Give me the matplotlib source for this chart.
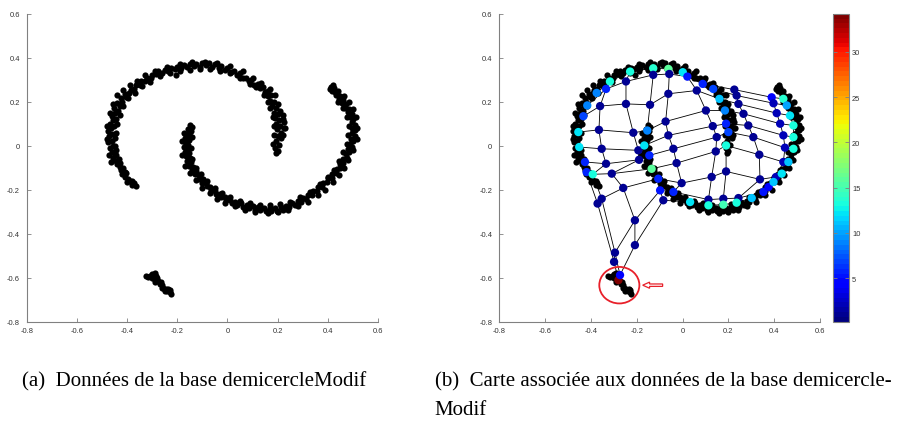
import numpy as np
import matplotlib
matplotlib.use('Agg')
import matplotlib.pyplot as plt
from matplotlib.patches import Ellipse, FancyArrow
from matplotlib.colors import Normalize

# data set demicercleModif
arc1 = [(-0.365, -0.185), (-0.372, -0.170), (-0.380, -0.178), (-0.388, -0.160), (-0.395, -0.150),
        (-0.400, -0.165), (-0.410, -0.140), (-0.405, -0.125), (-0.420, -0.128), (-0.425, -0.110),
        (-0.430, -0.095), (-0.418, -0.100), (-0.440, -0.085), (-0.445, -0.070), (-0.432, -0.060),
        (-0.455, -0.055), (-0.450, -0.040), (-0.462, -0.030), (-0.445, -0.020), (-0.470, -0.010),
        (-0.458, 0.000), (-0.475, 0.015), (-0.462, 0.020), (-0.450, 0.035), (-0.472, 0.045),
        (-0.460, 0.055), (-0.478, 0.065), (-0.465, 0.080), (-0.452, 0.090), (-0.470, 0.100),
        (-0.458, 0.115), (-0.445, 0.120), (-0.462, 0.135), (-0.448, 0.150), (-0.435, 0.160),
        (-0.452, 0.170), (-0.430, 0.180), (-0.440, 0.195), (-0.420, 0.200), (-0.425, 0.215),
        (-0.405, 0.220), (-0.410, 0.235), (-0.392, 0.240), (-0.385, 0.255), (-0.372, 0.260),
        (-0.365, 0.275), (-0.350, 0.278), (-0.345, 0.292), (-0.330, 0.295), (-0.320, 0.310),
        (-0.305, 0.308), (-0.300, 0.322), (-0.285, 0.325), (-0.275, 0.338), (-0.260, 0.332),
        (-0.250, 0.345), (-0.235, 0.340), (-0.225, 0.355), (-0.210, 0.348), (-0.200, 0.360),
        (-0.185, 0.352), (-0.175, 0.365), (-0.160, 0.358), (-0.150, 0.370), (-0.135, 0.362),
        (-0.125, 0.372), (-0.110, 0.360), (-0.100, 0.375), (-0.085, 0.365), (-0.075, 0.378),
        (-0.060, 0.360), (-0.050, 0.370), (-0.035, 0.355), (-0.025, 0.362), (-0.010, 0.345),
        (0.000, 0.352), (0.015, 0.335), (0.025, 0.340), (0.040, 0.322), (0.050, 0.330),
        (0.060, 0.308), (0.075, 0.310), (0.085, 0.292), (0.095, 0.298), (0.105, 0.278),
        (0.120, 0.282), (0.128, 0.262), (0.140, 0.268), (0.148, 0.245), (0.160, 0.250),
        (0.162, 0.225), (0.175, 0.230), (0.170, 0.205), (0.185, 0.200), (0.178, 0.180),
        (0.192, 0.170), (0.185, 0.150), (0.200, 0.145), (0.190, 0.125), (0.205, 0.115),
        (0.195, 0.100), (0.210, 0.090), (0.198, 0.075), (0.212, 0.060), (0.200, 0.045),
        (0.215, 0.035), (0.195, 0.020), (0.205, 0.005), (0.190, -0.010), (0.200, -0.025),
        (0.192, -0.035), (0.225, 0.110), (0.230, 0.080), (0.222, 0.140), (-0.207, 0.321)]

# inner and outer edges of the first half circle
arc1_edge = [(-0.380, -0.160), (-0.410, -0.120), (-0.430, -0.080), (-0.445, -0.040), (-0.450, 0.000),
             (-0.445, 0.060), (-0.440, 0.100), (-0.430, 0.140), (-0.415, 0.180), (-0.395, 0.215),
             (-0.370, 0.240), (-0.340, 0.270), (-0.310, 0.290), (-0.270, 0.315), (-0.230, 0.330),
             (-0.190, 0.340), (-0.150, 0.345), (-0.110, 0.350), (-0.070, 0.350), (-0.030, 0.340),
             (0.010, 0.330), (0.050, 0.310), (0.090, 0.280), (0.115, 0.265), (0.145, 0.230),
             (0.160, 0.200), (0.170, 0.170), (0.180, 0.130), (0.185, 0.090), (0.185, 0.050),
             (0.180, 0.010), (-0.480, 0.030), (-0.480, 0.090), (-0.470, 0.150), (-0.455, 0.190),
             (-0.440, 0.230), (-0.415, 0.255), (-0.390, 0.275), (-0.360, 0.295), (-0.330, 0.320),
             (-0.290, 0.340), (-0.240, 0.360), (-0.190, 0.372), (-0.140, 0.380), (-0.090, 0.382),
             (-0.040, 0.375), (0.010, 0.362), (0.060, 0.340), (0.100, 0.310), (0.135, 0.285),
             (0.170, 0.260), (0.190, 0.230), (0.200, 0.190), (0.210, 0.160), (0.220, 0.120),
             (0.225, 0.080), (0.220, 0.050), (-0.472, -0.040), (-0.465, -0.075)]

arc2 = [(-0.150, 0.095), (-0.140, 0.085), (-0.158, 0.075), (-0.145, 0.065), (-0.162, 0.055),
        (-0.150, 0.045), (-0.168, 0.035), (-0.155, 0.025), (-0.170, 0.015), (-0.158, 0.005),
        (-0.172, -0.005), (-0.160, -0.015), (-0.168, -0.028), (-0.155, -0.035), (-0.165, -0.048),
        (-0.150, -0.055), (-0.160, -0.068), (-0.145, -0.075), (-0.152, -0.090), (-0.138, -0.095),
        (-0.140, -0.110), (-0.125, -0.115), (-0.128, -0.130), (-0.112, -0.135), (-0.115, -0.150),
        (-0.098, -0.152), (-0.100, -0.168), (-0.085, -0.170), (-0.082, -0.185), (-0.068, -0.188),
        (-0.065, -0.202), (-0.050, -0.205), (-0.045, -0.220), (-0.030, -0.218), (-0.025, -0.235),
        (-0.010, -0.232), (-0.005, -0.248), (0.010, -0.245), (0.018, -0.260), (0.032, -0.255),
        (0.040, -0.270), (0.055, -0.262), (0.062, -0.278), (0.078, -0.270), (0.085, -0.285),
        (0.100, -0.275), (0.108, -0.290), (0.122, -0.280), (0.130, -0.292), (0.145, -0.282),
        (0.152, -0.295), (0.168, -0.285), (0.175, -0.298), (0.190, -0.285), (0.198, -0.295),
        (0.212, -0.280), (0.220, -0.290), (0.235, -0.272), (0.245, -0.280), (0.258, -0.262),
        (0.268, -0.270), (0.280, -0.250), (0.292, -0.255), (0.302, -0.238), (0.315, -0.240),
        (0.322, -0.222), (0.338, -0.222), (0.342, -0.205), (0.358, -0.205), (0.362, -0.188),
        (0.378, -0.186), (0.382, -0.168), (0.398, -0.165), (0.400, -0.148), (0.416, -0.145),
        (0.418, -0.128), (0.432, -0.125), (0.435, -0.108), (0.448, -0.102), (0.450, -0.085),
        (0.462, -0.078), (0.462, -0.060), (0.475, -0.055), (0.472, -0.038), (0.486, -0.030),
        (0.480, -0.015), (0.495, -0.005), (0.488, 0.010), (0.502, 0.020), (0.492, 0.032),
        (0.508, 0.045), (0.496, 0.058), (0.510, 0.070), (0.498, 0.082), (0.508, 0.095),
        (0.495, 0.108), (0.502, 0.120), (0.488, 0.130), (0.495, 0.142), (0.480, 0.152),
        (0.485, 0.165), (0.470, 0.172), (0.472, 0.188), (0.458, 0.192), (0.460, 0.208),
        (0.445, 0.212), (0.448, 0.228), (0.432, 0.230), (0.430, 0.245), (0.418, 0.250),
        (0.425, 0.262), (0.412, 0.268), (0.420, 0.275), (0.410, 0.258)]

# inner and outer edges of the second half circle
arc2_edge = [(-0.140, 0.040), (-0.145, -0.010), (-0.140, -0.060), (-0.125, -0.100), (-0.105, -0.130),
             (-0.080, -0.160), (-0.050, -0.190), (-0.020, -0.215), (0.010, -0.235), (0.050, -0.250),
             (0.090, -0.260), (0.130, -0.268), (0.170, -0.270), (0.210, -0.265), (0.250, -0.255),
             (0.290, -0.235), (0.330, -0.210), (0.370, -0.175), (0.400, -0.140), (0.425, -0.110),
             (0.445, -0.070), (0.460, -0.030), (0.475, 0.010), (0.480, 0.050), (0.485, 0.090),
             (0.475, 0.130), (0.460, 0.170), (0.440, 0.200), (-0.175, 0.060), (-0.180, 0.020),
             (-0.180, -0.040), (-0.170, -0.090), (-0.150, -0.125), (-0.125, -0.155), (-0.100, -0.190),
             (-0.070, -0.215), (-0.040, -0.240), (-0.010, -0.260), (0.030, -0.275), (0.070, -0.290),
             (0.110, -0.300), (0.160, -0.305), (0.200, -0.302), (0.240, -0.292), (0.280, -0.275),
             (0.320, -0.255), (0.360, -0.225), (0.390, -0.200), (0.420, -0.165), (0.445, -0.135),
             (0.465, -0.100), (0.480, -0.065), (0.500, -0.020), (0.515, 0.030), (0.518, 0.080),
             (0.512, 0.130), (0.502, 0.165), (0.485, 0.200), (0.465, 0.225), (0.440, 0.250)]

cluster = [(-0.325, -0.590), (-0.310, -0.590), (-0.300, -0.585), (-0.290, -0.580), (-0.295, -0.600),
           (-0.285, -0.610), (-0.290, -0.620), (-0.275, -0.615), (-0.270, -0.630), (-0.260, -0.635),
           (-0.255, -0.645), (-0.245, -0.650), (-0.240, -0.660), (-0.230, -0.665), (-0.225, -0.675),
           (-0.280, -0.600), (-0.265, -0.620), (-0.250, -0.660), (-0.235, -0.650), (-0.300, -0.600),
           (-0.315, -0.598), (-0.283, -0.592), (-0.262, -0.645), (-0.228, -0.655)]

# map nodes, 10 x 10 grid (rows top to bottom, columns left to right)
node_x = [[-0.375, -0.317, -0.229, -0.128, -0.062, 0.001, 0.088, 0.226, 0.389, 0.440],
          [-0.416, -0.334, -0.247, -0.128, -0.058, 0.021, 0.134, 0.236, 0.397, 0.455],
          [-0.433, -0.360, -0.247, -0.142, -0.062, 0.062, 0.161, 0.244, 0.411, 0.469],
          [-0.455, -0.365, -0.215, -0.154, -0.074, 0.102, 0.185, 0.266, 0.426, 0.484],
          [-0.451, -0.353, -0.193, -0.167, -0.062, 0.132, 0.190, 0.287, 0.440, 0.484],
          [-0.426, -0.334, -0.190, -0.145, -0.040, 0.149, 0.200, 0.309, 0.447, 0.484],
          [-0.419, -0.392, -0.309, -0.135, -0.026, 0.145, 0.190, 0.335, 0.440, 0.462],
          [-0.371, -0.353, -0.259, -0.106, -0.004, 0.127, 0.190, 0.338, 0.408, 0.433],
          [-0.299, -0.295, -0.208, -0.098, -0.040, 0.113, 0.178, 0.244, 0.353, 0.375],
          [-0.280, -0.273, -0.208, -0.084, 0.033, 0.113, 0.178, 0.236, 0.302, 0.397]]
node_y = [[0.240, 0.292, 0.337, 0.352, 0.349, 0.334, 0.281, 0.255, 0.220, 0.213],
          [0.183, 0.258, 0.292, 0.322, 0.326, 0.314, 0.258, 0.228, 0.193, 0.183],
          [0.134, 0.180, 0.190, 0.186, 0.236, 0.251, 0.213, 0.190, 0.148, 0.137],
          [0.062, 0.072, 0.059, 0.069, 0.110, 0.160, 0.160, 0.145, 0.100, 0.092],
          [-0.006, -0.014, -0.021, 0.001, 0.047, 0.089, 0.100, 0.092, 0.047, 0.039],
          [-0.074, -0.082, -0.064, -0.044, -0.014, 0.039, 0.062, 0.039, -0.009, -0.014],
          [-0.120, -0.130, -0.127, -0.105, -0.079, -0.026, 0.001, -0.041, -0.074, -0.074],
          [-0.263, -0.241, -0.192, -0.150, -0.170, -0.142, -0.117, -0.153, -0.142, -0.127],
          [-0.528, -0.486, -0.339, -0.203, -0.210, -0.245, -0.241, -0.238, -0.210, -0.188],
          [-0.611, -0.588, -0.452, -0.248, -0.256, -0.271, -0.268, -0.259, -0.238, -0.165]]
node_hits = [[9, 13, 13, 14, 16, 12, 6, 1, 4, 14],
             [9, 6, 1, 1, 1, 5, 7, 1, 2, 10],
             [7, 1, 1, 1, 1, 1, 11, 1, 2, 12],
             [12, 1, 1, 9, 1, 1, 9, 1, 2, 13],
             [12, 1, 1, 12, 1, 1, 6, 1, 2, 13],
             [6, 1, 1, 6, 1, 1, 7, 1, 2, 13],
             [6, 13, 1, 16, 1, 1, 13, 1, 2, 11],
             [1, 1, 1, 6, 1, 1, 1, 1, 2, 12],
             [1, 1, 1, 5, 6, 1, 1, 1, 5, 4],
             [34, 4, 1, 1, 12, 13, 15, 13, 11, 11]]

ticks = [-0.8, -0.6, -0.4, -0.2, 0, 0.2, 0.4, 0.6]
tick_labels = ['-0.8', '-0.6', '-0.4', '-0.2', '0', '0.2', '0.4', '0.6']
cbar_ticks = [5, 10, 15, 20, 25, 30]
hits_min, hits_max = 0.2, 34.2

caption_a = '(a)  Données de la base demicercleModif'
caption_b = '(b)  Carte associée aux données de la base demicercle-'
caption_b2 = 'Modif'

data = np.array(arc1 + arc1_edge + arc2 + arc2_edge + cluster)
nx = np.array(node_x)
ny = np.array(node_y)
hits = np.array(node_hits)

fig = plt.figure(figsize=(9.04, 4.27), dpi=100)
ax_a = fig.add_axes([0.02954, 0.24426, 0.38861, 0.72131])
ax_b = fig.add_axes([0.55232, 0.24426, 0.35476, 0.72131])
cax = fig.add_axes([0.92179, 0.24426, 0.0177, 0.72131])

axis_gray = '#808080'


def style(ax):
    ax.set_xlim(-0.8, 0.6)
    ax.set_ylim(-0.8, 0.6)
    ax.set_xticks(ticks)
    ax.set_xticklabels(tick_labels)
    ax.set_yticks(ticks)
    ax.set_yticklabels(tick_labels)
    ax.spines['top'].set_visible(False)
    ax.spines['right'].set_visible(False)
    for s in ['left', 'bottom']:
        ax.spines[s].set_color(axis_gray)
        ax.spines[s].set_linewidth(0.8)
    ax.tick_params(direction='in', length=3, width=0.6, color=axis_gray,
                   labelsize=5.4, labelcolor='#333333')
    ax.tick_params(axis='x', pad=3.5)
    ax.tick_params(axis='y', pad=5)
    for lab in ax.get_xticklabels() + ax.get_yticklabels():
        lab.set_fontfamily('Liberation Sans')


# (a) the data
ax_a.scatter(data[:, 0], data[:, 1], s=20, c='black', linewidths=0)
style(ax_a)

# (b) data + map
ax_b.scatter(data[:, 0], data[:, 1], s=20, c='black', linewidths=0, zorder=1)
rows, cols = nx.shape
for i in range(rows):
    ax_b.plot(nx[i, :], ny[i, :], color='black', lw=0.6, zorder=2)
for j in range(cols):
    ax_b.plot(nx[:, j], ny[:, j], color='black', lw=0.6, zorder=2)

cmap = plt.get_cmap('jet', 64)
norm = Normalize(hits_min, hits_max)
sc = ax_b.scatter(nx.ravel(), ny.ravel(), c=hits.ravel(), cmap=cmap, norm=norm,
                  s=36, linewidths=0, zorder=3)
style(ax_b)

# highlighted node in the small cluster
ax_b.add_patch(Ellipse((-0.276, -0.634), 0.175, 0.166, fill=False,
                       ec='#e8202a', lw=1.3, zorder=4))
ax_b.add_patch(FancyArrow(-0.087, -0.634, -0.087, 0, width=0.011, head_width=0.028,
                          head_length=0.03, length_includes_head=True, fill=False,
                          ec='#e8202a', lw=0.9, zorder=4))

cb = fig.colorbar(sc, cax=cax, ticks=cbar_ticks)
cb.outline.set_edgecolor(axis_gray)
cb.outline.set_linewidth(0.8)
cax.tick_params(direction='in', length=3, width=0.6, color=axis_gray, left=True, right=True,
                labelsize=5.4, labelcolor='#333333', pad=2)
for lab in cax.get_yticklabels():
    lab.set_fontfamily('Liberation Sans')

fig.text(0.0243, 0.1054, caption_a, fontsize=15, family='Liberation Serif', va='center')
fig.text(0.481, 0.1054, caption_b, fontsize=15, family='Liberation Serif', va='center')
fig.text(0.481, 0.0398, caption_b2, fontsize=15, family='Liberation Serif', va='center')

fig.savefig('out.png', dpi=100)
